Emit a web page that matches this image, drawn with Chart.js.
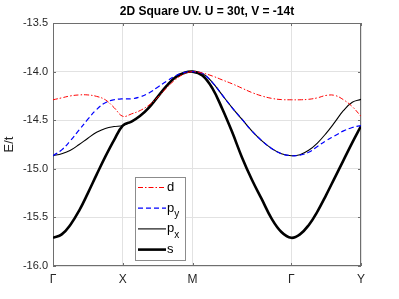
<!DOCTYPE html>
<html>

<head>
  <meta name="viewport" content="width=device-width,initial-scale=1.0">
  <title>2D Square UV</title>
  <style>
    html, body {
      margin: 0;
      padding: 0;
      background: #fff;
    }

    .wrap {
      width: 399px;
      height: 299px;
    }
  </style>
</head>

<body>
  <div class="wrap">
    <canvas id="band-chart" width="399" height="299"></canvas>
  </div>

  <script src="https://cdn.jsdelivr.net/npm/chart.js"></script>

  <script>
    // path coordinate along Γ-X-M-Γ-Y (|Γ-X| = 1, |M-Γ| = √2)
    const kPath = [
      0, 0.125, 0.25, 0.375, 0.5, 0.625, 0.75, 0.875, 1,
      1.125, 1.25, 1.375, 1.5, 1.625, 1.75, 1.875, 2,
      2.141, 2.283, 2.424, 2.566, 2.707, 2.849, 2.990, 3.131, 3.273, 3.414,
      3.539, 3.664, 3.789, 3.914, 4.039, 4.164, 4.289, 4.414
    ];

    const bandD = [
      -14.29, -14.27, -14.25, -14.24, -14.24, -14.255, -14.29, -14.37, -14.46,
      -14.435, -14.40, -14.345, -14.265, -14.17, -14.085, -14.025, -14.0,
      -14.015, -14.045, -14.085, -14.125, -14.17, -14.215, -14.25, -14.275, -14.288, -14.29,
      -14.29, -14.285, -14.27, -14.245, -14.245, -14.29, -14.36, -14.46
    ];

    const bandPy = [
      -14.865, -14.805, -14.71, -14.60, -14.49, -14.39, -14.32, -14.29, -14.28,
      -14.28, -14.26, -14.22, -14.16, -14.10, -14.045, -14.01, -14.0,
      -14.02, -14.11, -14.24, -14.37, -14.49, -14.61, -14.71, -14.79, -14.845, -14.865,
      -14.86, -14.83, -14.77, -14.71, -14.66, -14.61, -14.575, -14.555
    ];

    const bandPx = [
      -14.865, -14.845, -14.81, -14.75, -14.685, -14.625, -14.585, -14.565, -14.555,
      -14.515, -14.455, -14.37, -14.26, -14.15, -14.06, -14.015, -14.0,
      -14.02, -14.11, -14.24, -14.37, -14.49, -14.61, -14.71, -14.79, -14.845, -14.865,
      -14.855, -14.81, -14.735, -14.635, -14.52, -14.40, -14.315, -14.285
    ];

    const bandS = [
      -15.71, -15.675, -15.575, -15.43, -15.25, -15.06, -14.875, -14.705, -14.555,
      -14.515, -14.455, -14.37, -14.26, -14.15, -14.06, -14.015, -14.0,
      -14.04, -14.17, -14.38, -14.62, -14.88, -15.11, -15.31, -15.51, -15.65, -15.71,
      -15.675, -15.58, -15.44, -15.27, -15.09, -14.91, -14.73, -14.56
    ];

    const seriesNames = ['d', 'p_y', 'p_x', 's'];
    const tickPos = [0, 1, 2, 3.414, 4.414];
    const tickLabels = ['Γ', 'X', 'M', 'Γ', 'Y'];
    const yTicks = [-16, -15.5, -15, -14.5, -14, -13.5];

    const FONT = "'Liberation Sans', Arial, sans-serif";
    const toXY = (arr) => arr.map((v, i) => ({ x: kPath[i], y: v }));

    // box around the axes + inward ticks (matlab style)
    const framePlugin = {
      id: 'frame',
      beforeDatasetsDraw(chart) {
        const { ctx, chartArea: a, scales } = chart;
        ctx.save();
        ctx.strokeStyle = '#6e6e6e';
        ctx.lineWidth = 1;
        ctx.strokeRect(a.left + 0.5, a.top + 0.5, a.right - a.left - 1, a.bottom - a.top - 1);
        ctx.beginPath();
        yTicks.forEach(v => {
          const y = Math.round(scales.y.getPixelForValue(v)) + 0.5;
          ctx.moveTo(a.left, y); ctx.lineTo(a.left + 3, y);
          ctx.moveTo(a.right, y); ctx.lineTo(a.right - 3, y);
        });
        tickPos.forEach(v => {
          const x = Math.round(scales.x.getPixelForValue(v)) + 0.5;
          ctx.moveTo(x, a.bottom); ctx.lineTo(x, a.bottom - 3);
          ctx.moveTo(x, a.top); ctx.lineTo(x, a.top + 3);
        });
        ctx.stroke();
        ctx.restore();
      }
    };

    // legend with subscripts, placed inside the axes
    const legendPlugin = {
      id: 'subLegend',
      afterDatasetsDraw(chart) {
        const { ctx } = chart;
        const bx = 135.5, by = 177.5, bw = 50, bh = 83;
        ctx.save();
        ctx.fillStyle = '#fff';
        ctx.fillRect(bx, by, bw, bh);
        ctx.strokeStyle = '#8c8c8c';
        ctx.lineWidth = 1;
        ctx.strokeRect(bx, by, bw, bh);
        chart.data.datasets.forEach((ds, i) => {
          const y = 187.5 + i * 20.7;
          ctx.beginPath();
          ctx.strokeStyle = ds.borderColor;
          ctx.lineWidth = ds.borderWidth;
          ctx.setLineDash(ds.borderDash || []);
          ctx.moveTo(138, y);
          ctx.lineTo(166, y);
          ctx.stroke();
          ctx.setLineDash([]);
          const [main, sub] = ds.label.split('_');
          ctx.fillStyle = '#000';
          ctx.textBaseline = 'middle';
          ctx.font = '13px ' + FONT;
          ctx.fillText(main, 167, y);
          if (sub) {
            const w = ctx.measureText(main).width;
            ctx.font = '10px ' + FONT;
            ctx.fillText(sub, 167 + w, y + 6);
          }
        });
        ctx.restore();
      }
    };

    const bandChart = new Chart(document.getElementById('band-chart'), {
      type: 'line',
      data: {
        datasets: [
          { label: seriesNames[0], data: toXY(bandD), borderColor: '#ff0000', borderWidth: 1, borderDash: [5, 2, 1.5, 2] },
          { label: seriesNames[1], data: toXY(bandPy), borderColor: '#0000ff', borderWidth: 1.2, borderDash: [5, 3] },
          { label: seriesNames[2], data: toXY(bandPx), borderColor: '#000000', borderWidth: 1.1 },
          { label: seriesNames[3], data: toXY(bandS), borderColor: '#000000', borderWidth: 2.6 }
        ]
      },
      options: {
        responsive: false,
        animation: false,
        devicePixelRatio: 1,
        layout: { padding: { left: 0, right: 38, top: 0, bottom: 0 } },
        elements: {
          point: { radius: 0 },
          line: { tension: 0.4, fill: false }
        },
        plugins: {
          legend: { display: false },
          tooltip: { enabled: false },
          title: {
            display: true,
            text: '2D Square UV. U = 30t, V = -14t',
            fullSize: false,
            color: '#000',
            font: { family: FONT, size: 12, weight: 'bold' },
            padding: { top: 4, bottom: 4.6 }
          }
        },
        scales: {
          x: {
            type: 'linear',
            min: 0,
            max: 4.414,
            afterBuildTicks: (s) => { s.ticks = tickPos.map(v => ({ value: v })); },
            afterFit: (s) => { s.height = 33; },
            ticks: {
              autoSkip: false,
              maxRotation: 0,
              padding: 6,
              color: '#262626',
              font: { family: FONT, size: 12 },
              callback: (v, i) => tickLabels[i]
            },
            grid: { color: '#e2e2e2', drawTicks: false },
            border: { display: false }
          },
          y: {
            min: -16,
            max: -13.5,
            afterBuildTicks: (s) => { s.ticks = yTicks.map(v => ({ value: v })); },
            afterFit: (s) => { s.width = 53; },
            ticks: {
              padding: 5,
              color: '#262626',
              font: { family: FONT, size: 11 },
              callback: (v) => v.toFixed(1)
            },
            grid: { color: '#e2e2e2', drawTicks: false },
            border: { display: false },
            title: {
              display: true,
              text: 'E/t',
              color: '#262626',
              font: { family: FONT, size: 13 },
              padding: { top: 2, bottom: 0 }
            }
          }
        }
      },
      plugins: [framePlugin, legendPlugin]
    });
  </script>
</body>

</html>
